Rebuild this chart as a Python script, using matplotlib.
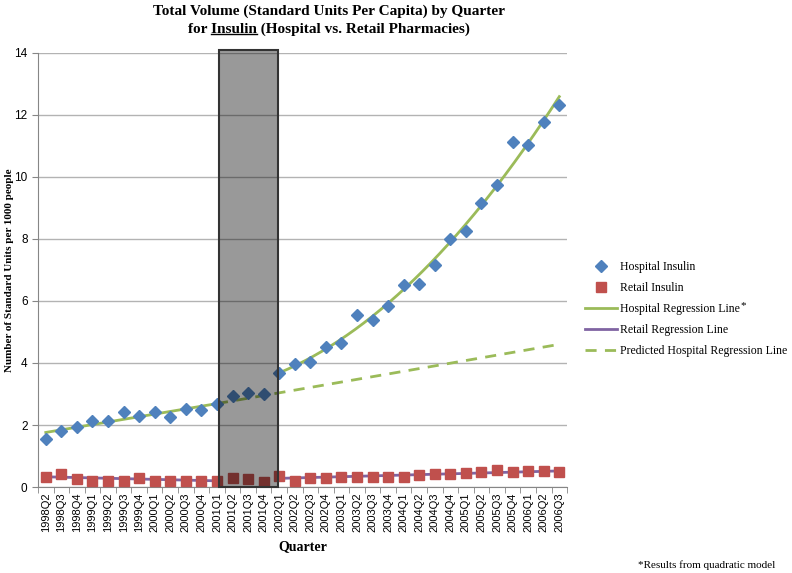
import matplotlib
matplotlib.use("Agg")
from matplotlib import pyplot as plt
from matplotlib.patches import Rectangle
from matplotlib.lines import Line2D
import numpy as np

quarters = [
    "1998Q2", "1998Q3", "1998Q4", "1999Q1", "1999Q2", "1999Q3", "1999Q4",
    "2000Q1", "2000Q2", "2000Q3", "2000Q4", "2001Q1", "2001Q2", "2001Q3",
    "2001Q4", "2002Q1", "2002Q2", "2002Q3", "2002Q4", "2003Q1", "2003Q2",
    "2003Q3", "2003Q4", "2004Q1", "2004Q2", "2004Q3", "2004Q4", "2005Q1",
    "2005Q2", "2005Q3", "2005Q4", "2006Q1", "2006Q2", "2006Q3",
]

hospital = [
    1.55, 1.81, 1.92, 2.13, 2.13, 2.42, 2.29, 2.43, 2.27, 2.51, 2.47, 2.69,
    2.95, 3.02, 2.99, 3.68, 3.98, 4.04, 4.51, 4.65, 5.55, 5.39, 5.82, 6.50,
    6.53, 7.17, 8.00, 8.26, 9.15, 9.73, 11.12, 11.02, 11.78, 12.30,
]

retail = [
    0.34, 0.43, 0.25, 0.21, 0.21, 0.20, 0.30, 0.18, 0.20, 0.20, 0.19, 0.19,
    0.30, 0.26, 0.17, 0.35, 0.19, 0.28, 0.30, 0.33, 0.33, 0.33, 0.33, 0.34,
    0.38, 0.41, 0.41, 0.44, 0.47, 0.55, 0.49, 0.53, 0.53, 0.47,
]

# regression lines (start / end quarters)
hosp_pre_idx = [0, 11]
hosp_pre_val = [1.76, 2.69]
hosp_pred_idx = [11, 33]
hosp_pred_val = [2.69, 4.60]
retail_pre_idx = [0, 11]
retail_pre_val = [0.33, 0.20]
retail_post_idx = [15, 33]
retail_post_val = [0.28, 0.52]

# intervention period (shaded)
shade_start, shade_end = 11.1, 14.9
post_start = 15

blue = "#4F81BD"
red = "#C0504D"
green = "#9BBB59"
purple = "#8064A2"
serif = "Liberation Serif"

x = np.arange(len(quarters))

fig = plt.figure(figsize=(7.92, 5.73), dpi=100)
ax = fig.add_axes([0.048, 0.150, 0.668, 0.758])

# quadratic model for the post period
coef = np.polyfit(x[post_start:], hospital[post_start:], 2)
xq = np.linspace(post_start, x[-1], 200)

ax.plot(hosp_pre_idx, hosp_pre_val, color=green, linewidth=2, zorder=2)
ax.plot(hosp_pred_idx, hosp_pred_val, color=green, linewidth=2, linestyle=(0, (4, 3)), zorder=2)
ax.plot(xq, np.polyval(coef, xq), color=green, linewidth=2, zorder=2)
ax.plot(retail_pre_idx, retail_pre_val, color=purple, linewidth=2, zorder=2)
ax.plot(retail_post_idx, retail_post_val, color=purple, linewidth=2, zorder=2)

ax.plot(x, hospital, linestyle="none", marker="D", markersize=6, color=blue, zorder=3)
ax.plot(x, retail, linestyle="none", marker="s", markersize=6.5, color=red, zorder=3)

ax.add_patch(Rectangle((shade_start, 0), shade_end - shade_start, 14.08,
                       facecolor=(0, 0, 0, 0.4), edgecolor="#333333", linewidth=1.5,
                       clip_on=False, zorder=5))

ax.set_xlim(-0.5, len(quarters) - 0.5)
ax.set_ylim(0, 14)
ax.set_yticks(np.arange(0, 15, 2))
ax.set_xticks(x)
ax.set_xticklabels(quarters, rotation=90, fontsize=8, family="Liberation Sans")
ax.set_xticks(np.arange(-0.5, len(quarters), 1), minor=True)
ax.tick_params(axis="x", which="major", length=0, pad=4)
ax.tick_params(axis="x", which="minor", length=4, color="#868686")
ax.tick_params(axis="y", length=4, color="#868686", labelsize=8.5)
for lab in ax.get_yticklabels():
    lab.set_family("Liberation Sans")

ax.grid(True, axis="y", color="#b3b3b3", linewidth=1)
ax.set_axisbelow(True)
for side in ["top", "right"]:
    ax.spines[side].set_visible(False)
for side in ["left", "bottom"]:
    ax.spines[side].set_color("#868686")

ax.set_xlabel("Quarter", family=serif, fontweight="bold", fontsize=10, labelpad=6)
fig.text(10 / 792, 1 - 270 / 573, "Number of Standard Units per 1000 people",
         rotation=90, ha="center", va="center", family=serif,
         fontweight="bold", fontsize=8)

# title with underlined "Insulin"
cx = 0.415
fig.text(cx, 1 - 11 / 573, "Total Volume (Standard Units Per Capita) by Quarter",
         ha="center", va="center", family=serif, fontweight="bold", fontsize=11)
line2 = fig.text(cx, 1 - 29 / 573, "for Insulin (Hospital vs. Retail Pharmacies)",
                 ha="center", va="center", family=serif, fontweight="bold", fontsize=11)
renderer = fig.canvas.get_renderer()
bb = line2.get_window_extent(renderer)
pre = fig.text(0, 0, "for ", family=serif, fontweight="bold", fontsize=11)
word = fig.text(0, 0, "for Insulin", family=serif, fontweight="bold", fontsize=11)
w_pre = pre.get_window_extent(renderer).width
w_word = word.get_window_extent(renderer).width
pre.remove()
word.remove()
W, H = fig.bbox.width, fig.bbox.height
uy = (bb.y0 + 2) / H
fig.add_artist(Line2D([(bb.x0 + w_pre) / W, (bb.x0 + w_word) / W], [uy, uy],
                      color="black", linewidth=1))

handles = [
    Line2D([], [], linestyle="none", marker="D", markersize=6, color=blue),
    Line2D([], [], linestyle="none", marker="s", markersize=6.5, color=red),
    Line2D([], [], color=green, linewidth=2),
    Line2D([], [], color=purple, linewidth=2),
    Line2D([], [], color=green, linewidth=2, linestyle=(0, (4, 3))),
]
labels = [
    "Hospital Insulin",
    "Retail Insulin",
    "Hospital Regression Line",
    "Retail Regression Line",
    "Predicted Hospital Regression Line",
]
leg = fig.legend(handles, labels, loc="upper left", bbox_to_anchor=(585 / 792, 1 - 261 / 573),
                 frameon=False, borderpad=0, borderaxespad=0, handlelength=2.7,
                 handletextpad=0.3, labelspacing=0.76, numpoints=1,
                 prop={"family": serif, "size": 8.5})

# superscript asterisk after the quadratic-model entry
fig.canvas.draw()
tb = leg.get_texts()[2].get_window_extent(renderer)
fig.text((tb.x1 + 0.5) / W, tb.y1 / H - 0.004, "*", ha="left", va="center",
         family=serif, fontsize=8)

fig.text(638 / 792, 1 - 565 / 573, "*Results from quadratic model", ha="left", va="center",
         family=serif, fontsize=8)

fig.savefig("out.png", dpi=100)
